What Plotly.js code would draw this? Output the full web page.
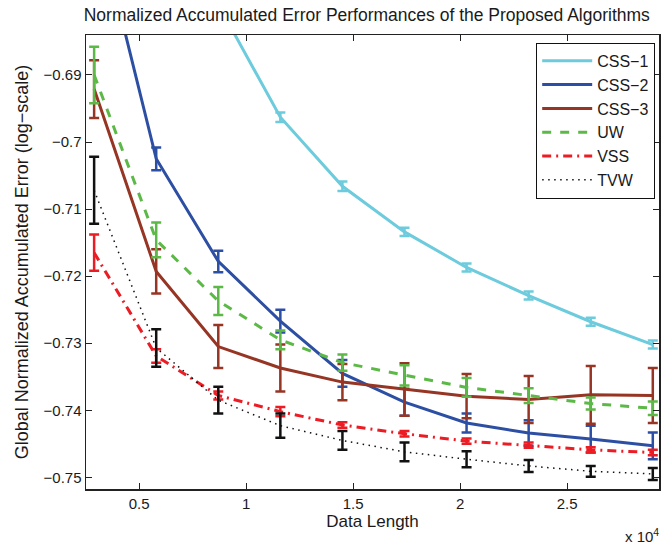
<!DOCTYPE html>
<html>
<head>
<meta charset="utf-8">
<script src="https://cdn.plot.ly/plotly-3.0.1.min.js"></script>
<style>html,body{margin:0;padding:0;background:#fff;}#chart{width:664px;height:545px;}</style>
</head>
<body>
<div id="chart"></div>
<script>
const dataLength = [2900, 5800, 8700, 11600, 14500, 17400, 20300, 23200, 26100, 29000];

const css1 = [-0.620, -0.657, -0.6795, -0.6963, -0.7066, -0.7134, -0.7187, -0.7229, -0.7268, -0.7302];
const css1Err = [0.0007, 0.0007, 0.0007, 0.0007, 0.0007, 0.0006, 0.0006, 0.0006, 0.0006, 0.0006];

const css2 = [-0.665, -0.7025, -0.7178, -0.7267, -0.7345, -0.7388, -0.7419, -0.7434, -0.7443, -0.7453];
const css2Err = [0.002, 0.0017, 0.0016, 0.0017, 0.002, 0.002, 0.0014, 0.0019, 0.002, 0.002];

const css3 = [-0.6921, -0.7193, -0.7305, -0.7337, -0.7358, -0.7369, -0.7379, -0.7384, -0.7377, -0.7378];
const css3Err = [0.0043, 0.0033, 0.0032, 0.0035, 0.0027, 0.0039, 0.0033, 0.0035, 0.0043, 0.0041];

const uw = [-0.6900, -0.7146, -0.7237, -0.7295, -0.7329, -0.7348, -0.7366, -0.7378, -0.7390, -0.7397];
const uwErr = [0.0042, 0.0026, 0.0021, 0.0014, 0.0012, 0.0015, 0.0014, 0.0011, 0.0009, 0.001];

const vss = [-0.7165, -0.7319, -0.7378, -0.7402, -0.7422, -0.7435, -0.7446, -0.7452, -0.7459, -0.7463];
const vssErr = [0.0027, 0.001, 0.0006, 0.0007, 0.0004, 0.0004, 0.0004, 0.0004, 0.0004, 0.0004];

const tvw = [-0.7072, -0.7307, -0.7385, -0.7423, -0.7445, -0.7462, -0.7473, -0.7483, -0.7491, -0.7495];
const tvwErr = [0.005, 0.0028, 0.002, 0.0018, 0.0014, 0.0014, 0.0012, 0.0009, 0.0008, 0.0009];

const xTickVals = [5000, 10000, 15000, 20000, 25000];
const xTickText = ["0.5", "1", "1.5", "2", "2.5"];
const yTickVals = [-0.75, -0.74, -0.73, -0.72, -0.71, -0.7, -0.69];
const yTickText = ["\u22120.75", "\u22120.74", "\u22120.73", "\u22120.72", "\u22120.71", "\u22120.7", "\u22120.69"];

function tr(name, y, err, color, dash, w) {
  return {
    x: dataLength, y: y, name: name, type: 'scatter', mode: 'lines',
    line: {color: color, width: w, dash: dash},
    error_y: {type: 'data', array: err, visible: true, color: color, thickness: 2.5, width: 5},
    cliponaxis: true
  };
}

const traces = [
  tr('CSS\u22121', css1, css1Err, '#6ccbdc', 'solid', 3),
  tr('CSS\u22122', css2, css2Err, '#2d4fa3', 'solid', 3),
  tr('CSS\u22123', css3, css3Err, '#963524', 'solid', 3),
  tr('UW', uw, uwErr, '#5cb947', 'dash', 3),
  tr('VSS', vss, vssErr, '#ec1c24', '9px,5px,2px,5px', 3),
  tr('TVW', tvw, tvwErr, '#111111', '1.5px,4.5px', 1.5)
];

const font = {family: 'Liberation Sans, Arial, sans-serif', color: '#1a1a1a'};

const layout = {
  width: 664, height: 545,
  margin: {l: 86, r: 5, t: 35, b: 56},
  paper_bgcolor: '#fff', plot_bgcolor: '#fff',
  font: Object.assign({size: 14}, font),
  showlegend: true,
  title: {
    text: 'Normalized Accumulated Error Performances of the Proposed Algorithms',
    font: Object.assign({size: 17.5}, font),
    xref: 'paper', x: 0.49, xanchor: 'center',
    yref: 'container', y: 1 - 15/545, yanchor: 'middle'
  },
  xaxis: {
    range: [2520, 29290],
    tickvals: xTickVals, ticktext: xTickText,
    ticks: 'inside', ticklen: 6, tickcolor: '#222', tickwidth: 1,
    showline: true, linecolor: '#222', linewidth: 1.5, mirror: 'ticks',
    showgrid: false, zeroline: false,
    tickfont: Object.assign({size: 15}, font),
    title: {text: 'Data Length', font: Object.assign({size: 17}, font), standoff: 4}
  },
  yaxis: {
    range: [-0.75174, -0.68404],
    tickvals: yTickVals, ticktext: yTickText,
    ticks: 'inside', ticklen: 6, tickcolor: '#222', tickwidth: 1,
    showline: true, linecolor: '#222', linewidth: 1.5, mirror: 'ticks',
    showgrid: false, zeroline: false,
    tickfont: Object.assign({size: 15}, font),
    title: {text: 'Global Normalized Accumulated Error (log\u2212scale)', font: Object.assign({size: 18}, font), standoff: 10}
  },
  legend: {
    x: 0.993, xanchor: 'right', y: 0.983, yanchor: 'top',
    bordercolor: '#111', borderwidth: 1.2, bgcolor: '#fff',
    font: Object.assign({size: 16}, font),
    tracegroupgap: 0, itemwidth: 50
  },
  annotations: [{
    text: 'x 10<sup>4</sup>', xref: 'paper', yref: 'paper',
    x: 1.003, xanchor: 'right', y: -0.128, yanchor: 'bottom', showarrow: false,
    font: Object.assign({size: 15}, font)
  }]
};

Plotly.newPlot('chart', traces, layout, {displayModeBar: false, staticPlot: true});
</script>
</body>
</html>
